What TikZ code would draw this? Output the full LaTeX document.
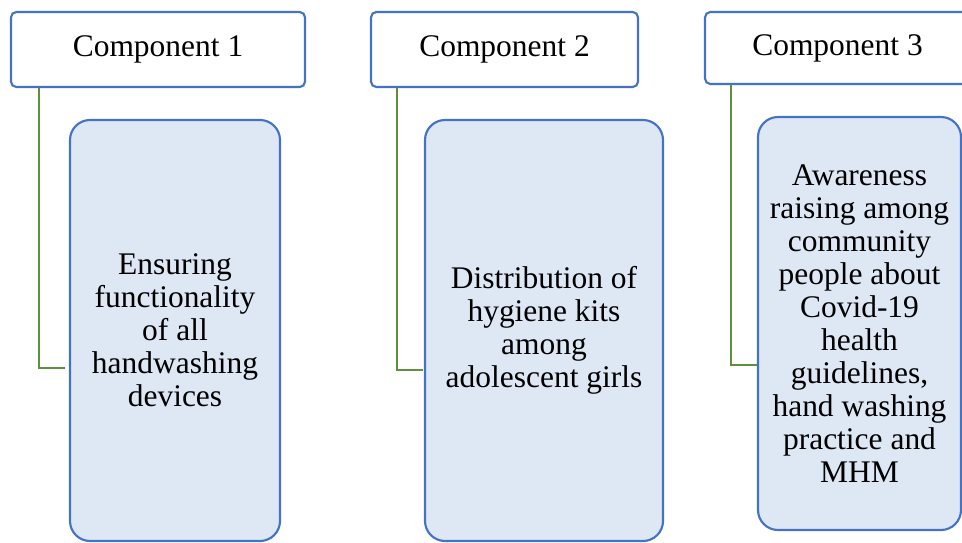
\documentclass[tikz,border=0pt]{standalone}
\usepackage{fontspec}
\setmainfont{Liberation Serif}
\usetikzlibrary{calc}
\definecolor{bord}{HTML}{4472C4}
\definecolor{lfill}{HTML}{DEE8F5}
\definecolor{gline}{HTML}{5E9139}
\begin{document}
\begin{tikzpicture}[x=0.75pt,y=-0.75pt,
  topbox/.style={draw=bord,line width=1.6pt,fill=white,rounded corners=4pt,inner sep=0pt,
    font=\fontsize{23.6}{24.75}\selectfont},
  lowbox/.style={draw=bord,line width=1.6pt,fill=lfill,rounded corners=15pt,inner sep=0pt,align=center,
    font=\fontsize{23.6}{24.75}\selectfont},
  conn/.style={draw=gline,line width=1.8pt}]
\useasboundingbox (0,0) rectangle (962,542);
\clip (0,0) rectangle (962,542);
\node[topbox,minimum width=220.5pt,minimum height=56.25pt] (top1) at (158,49.5) {Component 1};
\node[topbox,minimum width=200.25pt,minimum height=56.25pt] (top2) at (504.5,49.5) {Component 2};
\node[topbox,minimum width=198.75pt,minimum height=54pt] (top3) at (837.5,48) {Component 3};
\node[lowbox,minimum width=157.5pt,minimum height=315.75pt] (low1) at (175,330.5)
  {Ensuring\\functionality\\of all\\handwashing\\devices};
\node[lowbox,minimum width=178.5pt,minimum height=315.75pt] (low2) at (544,330.5)
  {Distribution of\\hygiene kits\\among\\adolescent girls};
\node[lowbox,minimum width=152.25pt,minimum height=309.75pt] (low3) at (859.5,323.5)
  {Awareness\\raising among\\community\\people about\\Covid-19\\health\\guidelines,\\hand washing\\practice and\\MHM};
\coordinate (c1) at (65,368);
\coordinate (c2) at (423,370);
\coordinate (c3) at (757,365);
\draw[conn] ($(top1.south west)+(29,0)$) |- (c1);
\draw[conn] ($(top2.south west)+(27,0)$) |- (c2);
\draw[conn] ($(top3.south west)+(27,0)$) |- (c3);
\end{tikzpicture}
\end{document}
